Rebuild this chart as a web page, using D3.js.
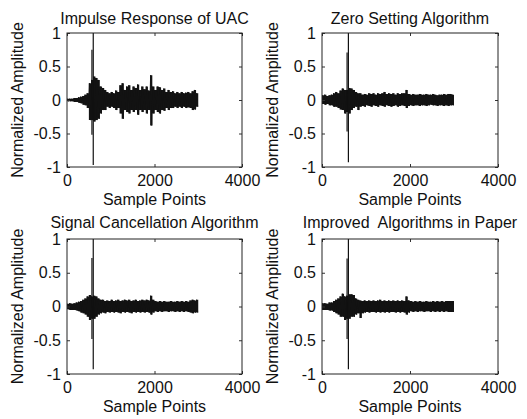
<!DOCTYPE html>
<html><head><meta charset="utf-8">
<script src="https://cdn.jsdelivr.net/npm/d3@7"></script>
<style>
html,body{margin:0;padding:0;background:#fff;}
text{font-family:"Liberation Sans",Arial,Helvetica,sans-serif;fill:#111;}
</style></head>
<body>
<svg id="c" width="527" height="419"></svg>
<script>
// ---- data ----
// body envelope of each signal, read per 50-sample bin (max / min within bin)
const binStarts = d3.range(0, 3000, 50);
const binWidth = 50;
const xTicks = [0, 2000, 4000];
const yTicks = [-1, -0.5, 0, 0.5, 1];
const titles = ["Impulse Response of UAC", "Zero Setting Algorithm", "Signal Cancellation Algorithm", "Improved  Algorithms in Paper"];
const xLabel = "Sample Points";
const yLabel = "Normalized Amplitude";

// isolated direct-path spikes (sample index, max, min) per panel
const peakSamples = [570, 600];
const uacPeakMax = [0.75, 1.0],  uacPeakMin = [-0.52, -0.97];
const zeroPeakMax = [0.71, 1.0], zeroPeakMin = [-0.47, -0.93];
const cancelPeakMax = [0.72, 1.0], cancelPeakMin = [-0.48, -0.93];
const improvedPeakMax = [0.71, 1.0], improvedPeakMin = [-0.48, -0.93];

const uacUpper = [0.02,0.02,0.02,0.03,0.03,0.04,0.05,0.06,0.08,0.1, 0.25,0.3,0.35,0.33,0.3,0.2,0.18,0.15,0.12,0.1,
  0.12,0.1,0.14,0.12,0.22,0.25,0.15,0.2,0.22,0.15, 0.2,0.18,0.23,0.15,0.2,0.16,0.2,0.14,0.37,0.2,
  0.15,0.2,0.19,0.15,0.17,0.12,0.15,0.12,0.13,0.1, 0.12,0.1,0.12,0.1,0.11,0.12,0.1,0.13,0.15,0.1];
const uacLower = [-0.02,-0.02,-0.02,-0.03,-0.03,-0.04,-0.05,-0.07,-0.08,-0.12, -0.3,-0.3,-0.32,-0.3,-0.28,-0.2,-0.15,-0.15,-0.1,-0.12,
  -0.1,-0.12,-0.15,-0.12,-0.2,-0.28,-0.15,-0.18,-0.2,-0.15, -0.18,-0.15,-0.22,-0.15,-0.18,-0.15,-0.2,-0.15,-0.38,-0.2,
  -0.15,-0.18,-0.2,-0.15,-0.16,-0.12,-0.15,-0.12,-0.12,-0.1, -0.12,-0.1,-0.12,-0.1,-0.12,-0.11,-0.12,-0.15,-0.14,-0.1];

const zeroUpper = [0.07,0.08,0.06,0.07,0.08,0.1,0.12,0.1,0.14,0.17, 0.15,0.15,0.18,0.17,0.15,0.12,0.1,0.1,0.08,0.09,
  0.08,0.1,0.09,0.1,0.08,0.1,0.09,0.1,0.12,0.09, 0.1,0.09,0.1,0.08,0.1,0.09,0.1,0.1,0.15,0.09,
  0.08,0.09,0.08,0.08,0.09,0.08,0.08,0.09,0.08,0.08, 0.09,0.08,0.07,0.08,0.08,0.09,0.08,0.09,0.09,0.08];
const zeroLower = [-0.06,-0.07,-0.06,-0.08,-0.08,-0.1,-0.1,-0.12,-0.14,-0.15, -0.2,-0.18,-0.2,-0.15,-0.12,-0.1,-0.15,-0.1,-0.09,-0.1,
  -0.08,-0.09,-0.1,-0.08,-0.09,-0.1,-0.08,-0.09,-0.1,-0.08, -0.09,-0.1,-0.09,-0.08,-0.1,-0.09,-0.08,-0.09,-0.12,-0.09,
  -0.08,-0.09,-0.08,-0.08,-0.09,-0.08,-0.08,-0.09,-0.08,-0.07, -0.08,-0.08,-0.09,-0.08,-0.08,-0.09,-0.08,-0.09,-0.08,-0.08];

const cancelUpper = [0.04,0.05,0.04,0.05,0.06,0.07,0.08,0.1,0.12,0.15, 0.17,0.15,0.16,0.15,0.12,0.1,0.1,0.08,0.09,0.08,
  0.1,0.08,0.09,0.1,0.08,0.09,0.1,0.09,0.1,0.08, 0.09,0.1,0.08,0.09,0.1,0.09,0.1,0.09,0.16,0.1,
  0.08,0.07,0.08,0.07,0.08,0.07,0.07,0.08,0.07,0.07, 0.08,0.07,0.08,0.07,0.08,0.07,0.09,0.1,0.09,0.1];
const cancelLower = [-0.04,-0.05,-0.05,-0.05,-0.06,-0.07,-0.09,-0.1,-0.12,-0.15, -0.2,-0.18,-0.18,-0.15,-0.12,-0.1,-0.09,-0.1,-0.08,-0.09,
  -0.08,-0.09,-0.08,-0.09,-0.1,-0.08,-0.09,-0.08,-0.09,-0.1, -0.08,-0.09,-0.08,-0.09,-0.08,-0.09,-0.08,-0.09,-0.12,-0.09,
  -0.07,-0.08,-0.07,-0.08,-0.07,-0.07,-0.08,-0.07,-0.07,-0.08, -0.07,-0.08,-0.07,-0.08,-0.07,-0.08,-0.09,-0.1,-0.09,-0.09];

const improvedUpper = [0.05,0.05,0.04,0.06,0.06,0.08,0.1,0.12,0.15,0.19, 0.15,0.16,0.18,0.18,0.17,0.12,0.1,0.09,0.08,0.09,
  0.08,0.09,0.08,0.09,0.08,0.09,0.1,0.08,0.09,0.08, 0.09,0.08,0.09,0.08,0.09,0.08,0.09,0.08,0.15,0.09,
  0.08,0.07,0.08,0.07,0.08,0.07,0.07,0.08,0.07,0.07, 0.08,0.07,0.08,0.07,0.08,0.07,0.08,0.08,0.08,0.08];
const improvedLower = [-0.05,-0.05,-0.05,-0.06,-0.06,-0.08,-0.1,-0.12,-0.15,-0.15, -0.2,-0.18,-0.18,-0.15,-0.15,-0.12,-0.1,-0.17,-0.1,-0.09,
  -0.08,-0.09,-0.08,-0.08,-0.09,-0.08,-0.09,-0.08,-0.09,-0.08, -0.09,-0.08,-0.08,-0.09,-0.08,-0.09,-0.08,-0.09,-0.12,-0.09,
  -0.07,-0.08,-0.07,-0.08,-0.07,-0.07,-0.08,-0.07,-0.07,-0.08, -0.07,-0.08,-0.07,-0.08,-0.07,-0.08,-0.07,-0.08,-0.08,-0.08];

// ---- layout ----
const panels = [
  {title: titles[0], up: uacUpper, lo: uacLower, pMax: uacPeakMax, pMin: uacPeakMin, x0: 67, x1: 242, y0: 33, y1: 167, tOff: 9},
  {title: titles[1], up: zeroUpper, lo: zeroLower, pMax: zeroPeakMax, pMin: zeroPeakMin, x0: 322, x1: 498, y0: 33, y1: 167, tOff: 9},
  {title: titles[2], up: cancelUpper, lo: cancelLower, pMax: cancelPeakMax, pMin: cancelPeakMin, x0: 67, x1: 242, y0: 239, y1: 374, tOff: 11},
  {title: titles[3], up: improvedUpper, lo: improvedLower, pMax: improvedPeakMax, pMin: improvedPeakMin, x0: 322, x1: 498, y0: 239, y1: 374, tOff: 11}
];

const svg = d3.select("#c");
const FS = 16, tickLen = 3;

panels.forEach(p => {
  const x = d3.scaleLinear().domain([0, 4000]).range([p.x0, p.x1]);
  const y = d3.scaleLinear().domain([-1, 1]).range([p.y1, p.y0]);
  const g = svg.append("g");

  const bins = binStarts.map((s, i) => ({s: s, up: p.up[i], lo: p.lo[i]}));
  const last = bins[bins.length - 1];
  const stepBins = bins.concat([{s: last.s + binWidth, up: last.up, lo: last.lo}]);

  // dense body of the trace: each bin filled from its min to its max
  g.append("path")
    .attr("d", d3.area().curve(d3.curveStepAfter).x(d => x(d.s)).y0(d => y(d.lo)).y1(d => y(d.up))(stepBins))
    .attr("fill", "#141414").attr("stroke", "none");
  // trace texture: alternate bin max and bin min
  const pts = [];
  bins.forEach(d => { pts.push([d.s + 12, d.up]); pts.push([d.s + 37, d.lo]); });
  g.append("path")
    .attr("d", d3.line().x(d => x(d[0])).y(d => y(d[1]))(pts))
    .attr("fill", "none").attr("stroke", "#111").attr("stroke-width", 0.8);

  // isolated spikes
  g.append("g").selectAll("line").data(peakSamples.map((s, i) => ({s: s, mx: p.pMax[i], mn: p.pMin[i]})))
    .join("line")
    .attr("x1", d => x(d.s)).attr("x2", d => x(d.s))
    .attr("y1", d => y(d.mn)).attr("y2", d => y(d.mx))
    .attr("stroke", "#111").attr("stroke-width", 1.2);

  // axes (MATLAB style: inward ticks on all sides)
  const axB = d3.axisBottom(x).tickValues(xTicks).tickSizeInner(-tickLen).tickSizeOuter(0).tickPadding(8).tickFormat(d3.format("d"));
  const axT = d3.axisTop(x).tickValues(xTicks).tickSizeInner(-tickLen).tickSizeOuter(0).tickFormat("");
  const axL = d3.axisLeft(y).tickValues(yTicks).tickSizeInner(-tickLen).tickSizeOuter(0).tickPadding(6)
      .tickFormat(d => d === 0 ? "0" : String(d));
  const axR = d3.axisRight(y).tickValues(yTicks).tickSizeInner(-tickLen).tickSizeOuter(0).tickFormat("");

  const gb = g.append("g").attr("transform", `translate(0,${p.y1})`).call(axB);
  const gt = g.append("g").attr("transform", `translate(0,${p.y0})`).call(axT);
  const gl = g.append("g").attr("transform", `translate(${p.x0},0)`).call(axL);
  const gr = g.append("g").attr("transform", `translate(${p.x1},0)`).call(axR);
  [gb, gt, gl, gr].forEach(a => {
    a.select(".domain").remove();
    a.selectAll("line").attr("stroke", "#333");
    a.selectAll("text").attr("font-size", FS).attr("fill", "#111")
      .attr("font-family", '"Liberation Sans",Arial,sans-serif');
  });
  gb.selectAll("text").attr("dy", "0.71em");

  g.append("rect").attr("x", p.x0).attr("y", p.y0)
    .attr("width", p.x1 - p.x0).attr("height", p.y1 - p.y0)
    .attr("fill", "none").attr("stroke", "#222").attr("stroke-width", 1);

  // title
  g.append("text").attr("x", (p.x0 + p.x1) / 2).attr("y", p.y0 - p.tOff)
    .attr("text-anchor", "middle").attr("font-size", FS).style("white-space", "pre")
    .text(p.title);
  // x label
  g.append("text").attr("x", (p.x0 + p.x1) / 2).attr("y", p.y1 + 38)
    .attr("text-anchor", "middle").attr("font-size", FS).text(xLabel);
  // y label
  g.append("text").attr("transform", `translate(${p.x0 - 44},${(p.y0 + p.y1) / 2}) rotate(-90)`)
    .attr("text-anchor", "middle").attr("font-size", FS).text(yLabel);
});
</script>
</body></html>
